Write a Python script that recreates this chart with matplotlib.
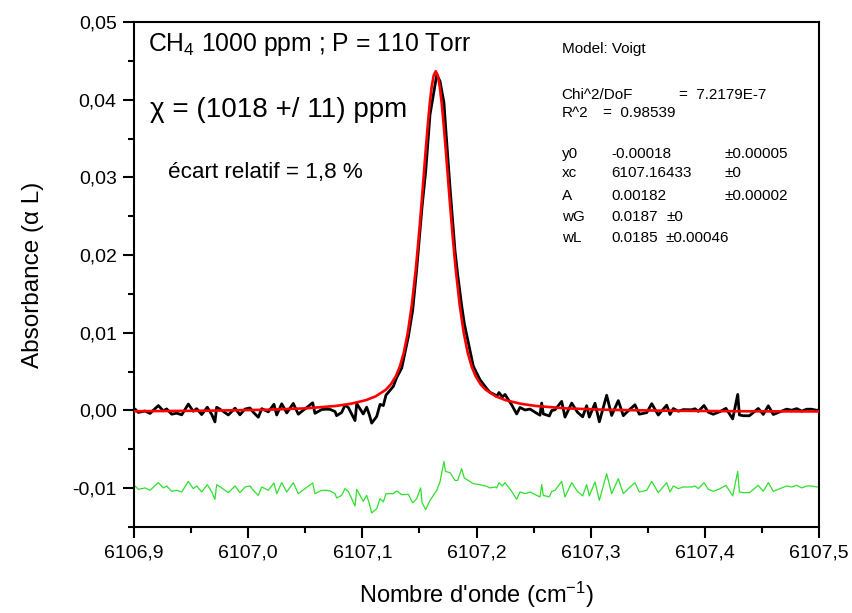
import matplotlib
matplotlib.use("Agg")
import matplotlib.pyplot as plt
from matplotlib.ticker import FuncFormatter, MultipleLocator, FixedLocator

plt.rcParams['font.family'] = ['Liberation Sans', 'DejaVu Sans']
plt.rcParams['mathtext.fontset'] = 'custom'
plt.rcParams['mathtext.rm'] = 'Liberation Sans'
plt.rcParams['mathtext.it'] = 'Liberation Sans:italic'
plt.rcParams['mathtext.bf'] = 'Liberation Sans:bold'

# ---------------- data ----------------
wavenumber = [
    6106.9000, 6106.9009, 6106.9038, 6106.9096, 6106.9140, 6106.9213, 6106.9257, 6106.9286,
    6106.9330, 6106.9374, 6106.9418, 6106.9476, 6106.9519, 6106.9549, 6106.9593, 6106.9642,
    6106.9681, 6106.9709, 6106.9724, 6106.9768, 6106.9826, 6106.9885, 6106.9928, 6106.9972,
    6107.0016, 6107.0045, 6107.0089, 6107.0119, 6107.0176, 6107.0226, 6107.0250, 6107.0294,
    6107.0338, 6107.0395, 6107.0439, 6107.0498, 6107.0565, 6107.0585, 6107.0644, 6107.0688,
    6107.0717, 6107.0761, 6107.0775, 6107.0819, 6107.0848, 6107.0877, 6107.0936, 6107.0951,
    6107.1008, 6107.1038, 6107.1061, 6107.1082, 6107.1126, 6107.1155, 6107.1184, 6107.1207,
    6107.1271, 6107.1301, 6107.1345, 6107.1403, 6107.1441, 6107.1476, 6107.1511, 6107.1523,
    6107.1555, 6107.1593, 6107.1652, 6107.1680, 6107.1715, 6107.1728, 6107.1768, 6107.1812,
    6107.1835, 6107.1870, 6107.1893, 6107.1972, 6107.2031, 6107.2089, 6107.2118, 6107.2162,
    6107.2177, 6107.2197, 6107.2226, 6107.2250, 6107.2308, 6107.2352, 6107.2381, 6107.2425,
    6107.2469, 6107.2527, 6107.2556, 6107.2571, 6107.2585, 6107.2638, 6107.2659, 6107.2688,
    6107.2746, 6107.2775, 6107.2834, 6107.2883, 6107.2930, 6107.2965, 6107.2988, 6107.3038,
    6107.3076, 6107.3140, 6107.3184, 6107.3242, 6107.3286, 6107.3330, 6107.3388, 6107.3426,
    6107.3491, 6107.3535, 6107.3592, 6107.3666, 6107.3695, 6107.3724, 6107.3768, 6107.3811,
    6107.3885, 6107.3914, 6107.3943, 6107.3993, 6107.4030, 6107.4074, 6107.4133, 6107.4185,
    6107.4244, 6107.4288, 6107.4303, 6107.4337, 6107.4390, 6107.4468, 6107.4512, 6107.4556,
    6107.4600, 6107.4658, 6107.4717, 6107.4761, 6107.4805, 6107.4848, 6107.4892, 6107.4936,
    6107.4980, 6107.5000,
]

absorbance = [
    -0.00004, 0.00018, -0.00025, -0.00007, -0.00038, 0.00063, -0.00005, 0.00020,
    -0.00048, -0.00035, -0.00056, 0.00082, -0.00011, 0.00023, -0.00053, 0.00042,
    -0.00052, -0.00147, 0.00042, 0.00002, -0.00058, 0.00029, -0.00056, 0.00018,
    0.00032, -0.00023, -0.00087, 0.00023, -0.00018, 0.00079, -0.00058, 0.00086,
    -0.00032, 0.00091, -0.00048, 0.00021, 0.00099, -0.00037, 0.00012, 0.00017,
    0.00014, -0.00014, -0.00067, -0.00026, 0.00068, 0.00039, -0.00130, 0.00088,
    -0.00045, 0.00042, -0.00054, -0.00163, -0.00077, 0.00078, 0.00063, 0.00197,
    0.00309, 0.00424, 0.00546, 0.00950, 0.01290, 0.01815, 0.02420, 0.02620,
    0.03080, 0.03810, 0.04320, 0.04240, 0.03960, 0.03680, 0.02870, 0.02050,
    0.01750, 0.01350, 0.01120, 0.00570, 0.00395, 0.00283, 0.00233, 0.00202,
    0.00180, 0.00231, 0.00173, 0.00206, 0.00072, -0.00045, 0.00039, 0.00006,
    0.00018, -0.00036, -0.00061, 0.00095, -0.00044, -0.00071, -0.00001, 0.00009,
    0.00117, -0.00085, 0.00095, -0.00020, -0.00082, 0.00061, -0.00085, 0.00093,
    -0.00146, 0.00195, -0.00064, 0.00127, -0.00067, -0.00003, 0.00073, -0.00048,
    -0.00028, 0.00087, -0.00059, 0.00068, -0.00052, 0.00025, -0.00010, 0.00011,
    0.00009, 0.00022, -0.00012, 0.00064, -0.00022, -0.00049, -0.00014, 0.00027,
    -0.00109, 0.00207, -0.00058, -0.00068, -0.00068, 0.00026, -0.00051, 0.00060,
    -0.00052, -0.00017, 0.00017, 0.00003, 0.00024, -0.00009, 0.00016, 0.00016,
    0.00002, 0.00006,
]

residual_offset = [
    -0.00994, -0.00972, -0.01015, -0.00997, -0.01028, -0.00929, -0.00997, -0.00972,
    -0.01041, -0.01028, -0.01049, -0.00913, -0.01006, -0.00972, -0.01049, -0.00955,
    -0.01049, -0.01144, -0.00955, -0.00997, -0.01058, -0.00972, -0.01058, -0.00985,
    -0.00972, -0.01028, -0.01093, -0.00985, -0.01028, -0.00933, -0.01071, -0.00929,
    -0.01049, -0.00929, -0.01071, -0.01006, -0.00933, -0.01071, -0.01028, -0.01028,
    -0.01036, -0.01071, -0.01126, -0.01093, -0.01006, -0.01041, -0.01229, -0.01015,
    -0.01170, -0.01093, -0.01199, -0.01319, -0.01264, -0.01135, -0.01177, -0.01071,
    -0.01071, -0.01036, -0.01084, -0.01080, -0.01190, -0.01135, -0.00997, -0.01186,
    -0.01276, -0.01157, -0.01028, -0.00920, -0.00656, -0.00784, -0.00801, -0.00900,
    -0.00900, -0.00749, -0.00869, -0.00942, -0.00955, -0.00977, -0.00997, -0.00985,
    -0.00997, -0.00929, -0.00972, -0.00929, -0.01041, -0.01144, -0.01049, -0.01071,
    -0.01049, -0.01093, -0.01113, -0.00955, -0.01093, -0.01113, -0.01041, -0.01028,
    -0.00913, -0.01113, -0.00929, -0.01041, -0.01100, -0.00955, -0.01100, -0.00920,
    -0.01157, -0.00814, -0.01071, -0.00878, -0.01071, -0.01006, -0.00929, -0.01049,
    -0.01028, -0.00913, -0.01058, -0.00929, -0.01049, -0.00972, -0.01006, -0.00985,
    -0.00985, -0.00972, -0.01006, -0.00929, -0.01015, -0.01041, -0.01006, -0.00964,
    -0.01100, -0.00784, -0.01049, -0.01058, -0.01058, -0.00964, -0.01041, -0.00929,
    -0.01041, -0.01006, -0.00972, -0.00985, -0.00964, -0.00997, -0.00972, -0.00972,
    -0.00985, -0.00981,
]

fit_x = [
    6106.9000, 6106.9643, 6107.0153, 6107.0503, 6107.0767, 6107.0898, 6107.1030, 6107.1117,
    6107.1205, 6107.1249, 6107.1293, 6107.1328, 6107.1363, 6107.1398, 6107.1433, 6107.1468,
    6107.1494, 6107.1520, 6107.1538, 6107.1555, 6107.1573, 6107.1590, 6107.1608, 6107.1625,
    6107.1643,
    6107.1661, 6107.1678, 6107.1696, 6107.1713, 6107.1731, 6107.1748, 6107.1766, 6107.1792,
    6107.1818, 6107.1853, 6107.1888, 6107.1923, 6107.1958, 6107.1993, 6107.2037, 6107.2081,
    6107.2169, 6107.2256, 6107.2388, 6107.2519, 6107.2783, 6107.3133, 6107.3643, 6107.4286,
    6107.5000,
]
fit_y = [
    -0.00010, -0.00003, 0.00009, 0.00027, 0.00058, 0.00086, 0.00132, 0.00182,
    0.00266, 0.00335, 0.00439, 0.00563, 0.00743, 0.01000, 0.01353, 0.01815,
    0.02230, 0.02690, 0.03030, 0.03350, 0.03670, 0.03944, 0.04172, 0.04312,
    0.04366,
    0.04312, 0.04172, 0.03944, 0.03670, 0.03350, 0.03030, 0.02690, 0.02230,
    0.01815, 0.01353, 0.01000, 0.00743, 0.00563, 0.00439, 0.00335, 0.00266,
    0.00182, 0.00132, 0.00086, 0.00058, 0.00027, 0.00009, -0.00003, -0.00010,
    -0.00013,
]

x_ticks = [6106.9, 6107.0, 6107.1, 6107.2, 6107.3, 6107.4, 6107.5]
y_ticks = [-0.01, 0.00, 0.01, 0.02, 0.03, 0.04, 0.05]

title_text = "CH$_{\\mathregular{4}}$ 1000 ppm ; P = 110 Torr"
chi_text = "\u03c7 = (1018 +/ 11) ppm"
ecart_text = "\u00e9cart relatif = 1,8 %"

# ---------------- figure ----------------
W, H = 852, 613
fig = plt.figure(figsize=(W / 100, H / 100), dpi=100)
fig.patch.set_facecolor('white')
ax = fig.add_axes([134 / W, 1 - 527 / H, (819 - 134) / W, (527 - 22) / H])

ax.plot(wavenumber, residual_offset, color='#2ee02e', lw=0.9, zorder=2)
ax.plot(wavenumber, absorbance, color='black', lw=2.0, zorder=3)
ax.plot(fit_x, fit_y, color='#ff0000', lw=1.9, zorder=4)

ax.set_xlim(6106.9, 6107.5)
ax.set_ylim(-0.015, 0.05)

ax.xaxis.set_major_locator(FixedLocator(x_ticks))
ax.xaxis.set_minor_locator(MultipleLocator(0.05))
ax.yaxis.set_major_locator(FixedLocator(y_ticks))
ax.yaxis.set_minor_locator(MultipleLocator(0.005))
ax.xaxis.set_major_formatter(FuncFormatter(lambda v, p: f"{round(v, 1):.1f}".replace('.', ',')))
ax.yaxis.set_major_formatter(FuncFormatter(lambda v, p: f"{round(v, 2) + 0.0:.2f}".replace('.', ',')))

ax.tick_params(axis='both', which='major', direction='out', length=8, width=1.5,
               labelsize=14, pad=4.5)
ax.tick_params(axis='both', which='minor', direction='out', length=4.3, width=1.5)
ax.tick_params(top=False, right=False, which='both')
for s in ax.spines.values():
    s.set_linewidth(1.5)

ax.set_xlabel("Nombre d'onde (cm$^{\\mathregular{-1}}$)", fontsize=17, labelpad=13)
ax.set_ylabel("Absorbance (\u03b1 L)", fontsize=17.5, labelpad=20)

def fx(px):
    return px / W

def fy(py):
    return 1 - py / H

fig.text(fx(148), fy(50.7), title_text, fontsize=17.8, va='baseline', ha='left')
fig.text(fx(150), fy(116.7), chi_text, fontsize=20, va='baseline', ha='left')
fig.text(fx(168), fy(177.7), ecart_text, fontsize=16.2, va='baseline', ha='left')

fs = 11
c1, c2, c3 = 561.7, 611, 724.3
fig.text(fx(c1), fy(53.3), "Model: Voigt", fontsize=fs, va='baseline')
fig.text(fx(c1), fy(98.7), "Chi^2/DoF", fontsize=fs, va='baseline')
fig.text(fx(679.3), fy(98.7), "=  7.2179E-7", fontsize=fs, va='baseline')
fig.text(fx(c1), fy(117.3), "R^2", fontsize=fs, va='baseline')
fig.text(fx(603.3), fy(117.3), "=  0.98539", fontsize=fs, va='baseline')
rows = [
    ("y0", "-0.00018", "\u00b10.00005", c3, 158.3),
    ("xc", "6107.16433", "\u00b10", c3, 177.3),
    ("A", "0.00182", "\u00b10.00002", c3, 200.0),
    ("wG", "0.0187", "\u00b10", 666.7, 220.7),
    ("wL", "0.0185", "\u00b10.00046", 665.0, 242.0),
]
for name, val, err, ex, by in rows:
    fig.text(fx(c1), fy(by), name, fontsize=fs, va='baseline')
    fig.text(fx(c2), fy(by), val, fontsize=fs, va='baseline')
    fig.text(fx(ex), fy(by), err, fontsize=fs, va='baseline')

fig.savefig("out.png", dpi=100, facecolor='white')
